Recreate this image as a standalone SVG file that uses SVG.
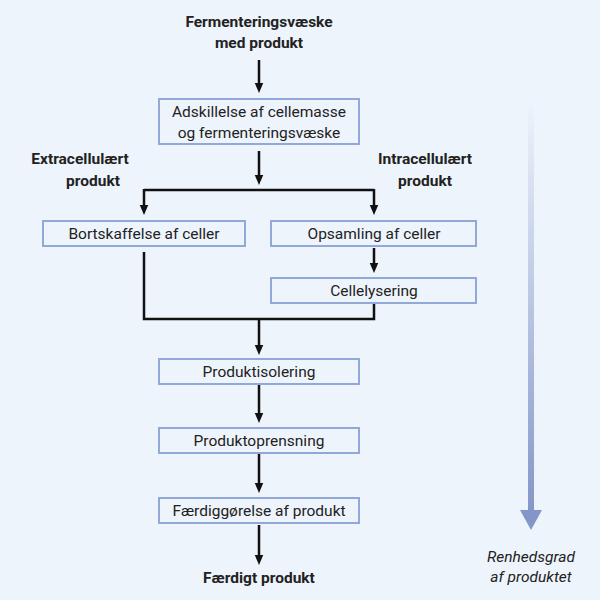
<svg xmlns="http://www.w3.org/2000/svg" width="600" height="600" viewBox="0 0 600 600">
<style>
.box{fill:#eef4fc;stroke:#92a8d8;stroke-width:2}
.t{font-family:Roboto,"Liberation Sans",sans-serif;font-size:15.5px;fill:#222;text-anchor:middle}
.b{font-weight:bold}
.c{fill:none;stroke:#111;stroke-width:2.5}
</style>
<defs>
<marker id="ah" markerWidth="4" markerHeight="4" refX="2" refY="2" orient="auto" markerUnits="strokeWidth"><path d="M0,0.3 L4,2 L0,3.7Z" fill="#111"/></marker>
<linearGradient id="g" x1="0" y1="0" x2="0" y2="1"><stop offset="0" stop-color="#eef4fc"/><stop offset="1" stop-color="#8496c8"/></linearGradient>
</defs>
<rect width="600" height="600" fill="#eef4fc"/>
<g id="connectors">
<path class="c" d="M259,60 V88" marker-end="url(#ah)"/>
<path class="c" d="M259,151 V180" marker-end="url(#ah)"/>
<path class="c" d="M144,190 H374"/>
<path class="c" d="M144,189 V210" marker-end="url(#ah)"/>
<path class="c" d="M374,189 V210" marker-end="url(#ah)"/>
<path class="c" d="M374,248 V268" marker-end="url(#ah)"/>
<path class="c" d="M144,252 V319 H374 V303"/>
<path class="c" d="M259,319 V350" marker-end="url(#ah)"/>
<path class="c" d="M259,385 V418" marker-end="url(#ah)"/>
<path class="c" d="M259,454 V488" marker-end="url(#ah)"/>
<path class="c" d="M259,525 V560" marker-end="url(#ah)"/>
</g>
<g id="n0"><text class="t b" x="259" y="27">Fermenteringsvæske</text><text class="t b" x="259" y="48">med produkt</text></g>
<g id="n1"><rect class="box" x="159" y="99" width="200" height="45"/><text class="t" x="259" y="117">Adskillelse af cellemasse</text><text class="t" x="259" y="138">og fermenteringsvæske</text></g>
<g id="l1"><text class="t b" x="80" y="164">Extracellulært</text><text class="t b" x="93" y="186">produkt</text></g>
<g id="l2"><text class="t b" x="425" y="164">Intracellulært</text><text class="t b" x="425" y="186">produkt</text></g>
<g id="n2"><rect class="box" x="43" y="221" width="202" height="25"/><text class="t" x="144" y="239">Bortskaffelse af celler</text></g>
<g id="n3"><rect class="box" x="271" y="221" width="205" height="25"/><text class="t" x="374" y="239">Opsamling af celler</text></g>
<g id="n4"><rect class="box" x="271" y="278" width="205" height="25"/><text class="t" x="374" y="296">Cellelysering</text></g>
<g id="n5"><rect class="box" x="159" y="359" width="200" height="25"/><text class="t" x="259" y="377">Produktisolering</text></g>
<g id="n6"><rect class="box" x="159" y="428" width="200" height="25"/><text class="t" x="259" y="446">Produktoprensning</text></g>
<g id="n7"><rect class="box" x="159" y="498" width="200" height="25"/><text class="t" x="259" y="516">Færdiggørelse af produkt</text></g>
<g id="n8"><text class="t b" x="259" y="583">Færdigt produkt</text></g>
<g id="purity">
<rect x="528" y="100" width="6" height="414" fill="url(#g)"/>
<path d="M520,510 H542 L531,530Z" fill="#8496c8"/>
<text class="t" x="531" y="562" font-style="italic" fill="#333">Renhedsgrad</text>
<text class="t" x="531" y="582" font-style="italic" fill="#333">af produktet</text>
</g>
</svg>
